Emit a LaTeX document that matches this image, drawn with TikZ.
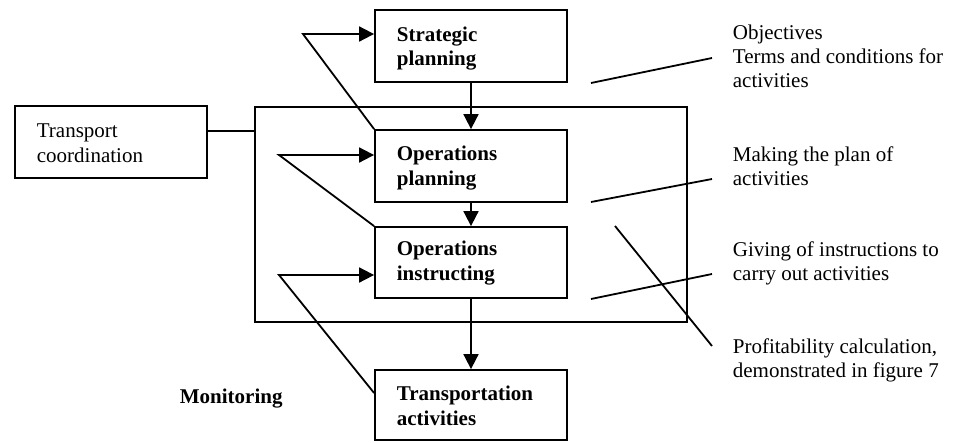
\documentclass[tikz,border=0pt]{standalone}
\usepackage{fontspec}
\setmainfont{Liberation Serif}
\usetikzlibrary{arrows.meta,calc}
\begin{document}
\begin{tikzpicture}[x=1pt,y=-1pt,
  line width=1.8pt,
  txt/.style={font=\fontsize{21}{24}\selectfont, inner sep=0pt, align=left, anchor=base west},
  boldtxt/.style={txt, font=\fontsize{21}{24.5}\selectfont\bfseries},
  stage/.style={draw, line width=1.8pt, minimum width=192pt, minimum height=72pt, inner sep=0pt},
  flow/.style={-{Triangle[length=15pt,width=15pt]}},
  lead/.style={line width=1.8pt}
]
\useasboundingbox (0,0) rectangle (955,442);

% control area enclosing planning and instructing
\node[draw, minimum width=432pt, minimum height=215pt, inner sep=0pt] (frame) at (471,214.5) {};

% stage boxes
\node[stage] (sp) at (471,46) {};
\node[stage] (op) at (471,166) {};
\node[stage, minimum height=71pt] (oi) at (471,262.5) {};
\node[stage, minimum height=70pt] (ta) at (471,405) {};
\node[stage] (tc) at (111,142) {};

% stage names (anchored at the baseline of the last line)
\node[boldtxt] (spt) at (396,65.5) {Strategic\\planning};
\node[boldtxt] (opt) at (396,185) {Operations\\planning};
\node[boldtxt] (oit) at (396,280) {Operations\\instructing};
\node[boldtxt] (tat) at (396,425) {Transportation\\activities};
\node[txt, font=\fontsize{21}{25}\selectfont] (tct) at (36,162) {Transport\\coordination};

% main flow
\draw[flow] (sp.south) -- (op.north);
\draw[flow] (op.south) -- (oi.north);
\draw[flow] (oi.south) -- (ta.south |- ta.north);
\draw ([yshift=11pt]tc.east) -- ([yshift=11pt]tc.east -| frame.west);

% feedback loops
\coordinate (f1) at (303,34);
\coordinate (f2) at (279,155);
\coordinate (f3) at (279,275);
\draw[flow] (op.north west) -- (f1) -- (f1 -| sp.west);
\draw[flow] (oi.north west) -- (f2) -- (f2 -| op.west);
\draw[flow] ([yshift=12pt]ta.west) -- (f3) -- (f3 -| oi.west);

\node[boldtxt] (mon) at (179,403) {Monitoring};

% explanations
\node[txt] (e1) at (732,87) {Objectives\\Terms and conditions for\\activities};
\node[txt] (e2) at (732,185) {Making the plan of\\activities};
\node[txt] (e3) at (732,280) {Giving of instructions to\\carry out activities};
\node[txt] (e4) at (732,377) {Profitability calculation,\\demonstrated in figure 7};

\coordinate (a1) at (591,83);  \coordinate (b1) at (712,58);
\coordinate (a2) at (591,202); \coordinate (b2) at (712,179);
\coordinate (a3) at (591,299); \coordinate (b3) at (712,274);
\coordinate (a4) at (615,226); \coordinate (b4) at (712,346);
\draw[lead] (a1) -- (b1);
\draw[lead] (a2) -- (b2);
\draw[lead] (a3) -- (b3);
\draw[lead] (a4) -- (b4);
\end{tikzpicture}
\end{document}
